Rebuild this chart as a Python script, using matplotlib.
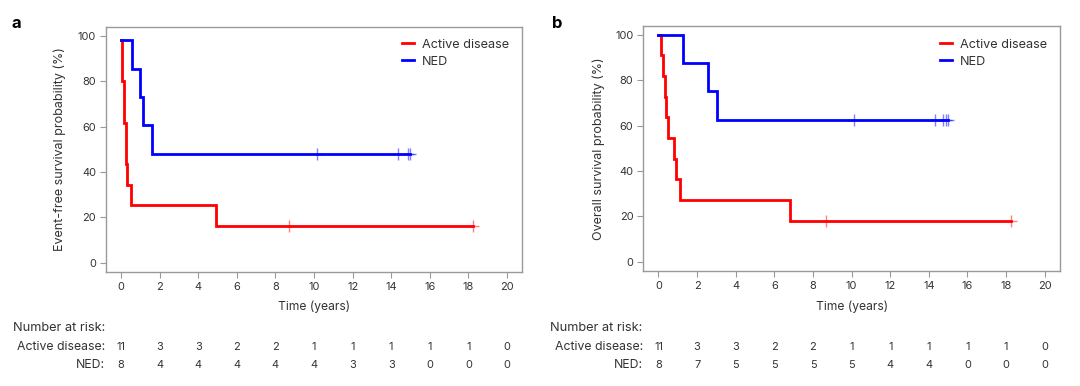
import matplotlib
matplotlib.use("Agg")
import matplotlib.pyplot as plt
from matplotlib.transforms import blended_transform_factory
from matplotlib.lines import Line2D

FONT = ['Inter', 'DejaVu Sans']
plt.rcParams['font.family'] = FONT

# ---------------- data ----------------
# Panel a: event-free survival
efs_active_t = [0, 0.07, 0.16, 0.24, 0.27, 0.29, 0.52, 4.92, 18.26]
efs_active_s = [98.1, 79.9, 61.5, 52.6, 43.5, 34.5, 25.4, 16.3, 16.3]
efs_active_cens = [8.72, 18.26]

efs_ned_t = [0, 0.57, 0.97, 1.14, 1.59, 14.96]
efs_ned_s = [98.1, 85.5, 73.0, 60.5, 48.0, 48.0]
efs_ned_cens = [10.13, 14.37, 14.87, 14.96]

# Panel b: overall survival
os_active_t = [0, 0.11, 0.22, 0.32, 0.41, 0.50, 0.82, 0.91, 1.11, 6.83, 18.24]
os_active_s = [100, 90.9, 81.8, 72.7, 63.6, 54.5, 45.5, 36.4, 27.3, 18.2, 18.2]
os_active_cens = [8.69, 18.24]

os_ned_t = [0, 1.29, 2.56, 3.03, 14.98]
os_ned_s = [100, 87.5, 75.0, 62.5, 62.5]
os_ned_cens = [10.13, 14.34, 14.75, 14.87, 14.98]

risk_times = [0, 2, 4, 6, 8, 10, 12, 14, 16, 18, 20]
efs_risk_active = [11, 3, 3, 2, 2, 1, 1, 1, 1, 1, 0]
efs_risk_ned = [8, 4, 4, 4, 4, 4, 3, 3, 0, 0, 0]
os_risk_active = [11, 3, 3, 2, 2, 1, 1, 1, 1, 1, 0]
os_risk_ned = [8, 7, 5, 5, 5, 5, 4, 4, 0, 0, 0]

group_labels = ["Active disease", "NED"]
colors = ["#ff0000", "#0000ff"]
y_labels = ["Event-free survival probability (%)", "Overall survival probability (%)"]
panel_letters = ["a", "b"]

# ---------------- figure ----------------
W, H = 1080, 386
fig = plt.figure(figsize=(W / 100, H / 100), dpi=100)
renderer = fig.canvas.get_renderer()

TXT = "#333333"
SP = "#999999"


def fit_size(text, target_px, weight="normal"):
    """Font size (pt) so that `text` is about target_px wide."""
    t = fig.text(0, 0, text, fontsize=10, fontweight=weight)
    w = t.get_window_extent(renderer).width
    t.remove()
    return 10 * target_px / w


FS_TICK = fit_size("100", 18.5)
FS_YLAB = fit_size(y_labels[0], 205.0)
FS_XLAB = fit_size("Time (years)", 72.5)
FS_LEG = fit_size("Active disease", 88.0)
FS_NAR = fit_size("Number at risk:", 93.0)
FS_ROW = fit_size("Active disease:", 88.7)


def level_at(ts, ss, x):
    v = ss[0]
    for t, s in zip(ts, ss):
        if t <= x:
            v = s
    return v


panels = [
    dict(rect=[105.6 / W, 1 - 272 / H, (522.4 - 105.6) / W, (272 - 26.6) / H],
         curves=[(efs_active_t, efs_active_s, efs_active_cens),
                 (efs_ned_t, efs_ned_s, efs_ned_cens)],
         risk=[efs_risk_active, efs_risk_ned], letter_x=12, nar_x=13, lab_x=105,
         ylab_x=60, leg_x=509),
    dict(rect=[643 / W, 1 - 271 / H, (1060.2 - 643) / W, (271 - 25.6) / H],
         curves=[(os_active_t, os_active_s, os_active_cens),
                 (os_ned_t, os_ned_s, os_ned_cens)],
         risk=[os_risk_active, os_risk_ned], letter_x=552, nar_x=550, lab_x=643,
         ylab_x=599, leg_x=1047),
]

for i, p in enumerate(panels):
    ax = fig.add_axes(p["rect"])
    for (ts, ss, cens), col in zip(p["curves"], colors):
        ax.step(ts, ss, where="post", color=col, lw=2.0, solid_joinstyle="miter")
        ax.plot(cens, [level_at(ts, ss, c) for c in cens], linestyle="none",
                marker="+", ms=9, mew=1.0, color=col, alpha=0.5)
    ax.set_xlim(-0.8, 20.8)
    ax.set_ylim(-4, 104)
    ax.set_xticks(risk_times)
    ax.set_yticks([0, 20, 40, 60, 80, 100])
    for s in ax.spines.values():
        s.set_color(SP)
        s.set_linewidth(1.0)
    ax.tick_params(colors=SP, labelcolor=TXT, labelsize=FS_TICK, length=4,
                   width=0.8, pad=3)
    ax_w = p["rect"][2] * W
    ax.set_ylabel(y_labels[i], fontsize=FS_YLAB, color=TXT, va="center")
    ax.yaxis.set_label_coords((p["ylab_x"] - p["rect"][0] * W) / ax_w, 0.5)

    tr = blended_transform_factory(ax.transData, fig.transFigure)
    ax.text(10, 1 - 307 / H, "Time (years)", transform=tr, fontsize=FS_XLAB,
            color=TXT, ha="center", va="center")

    handles = [Line2D([], [], color=c, lw=2) for c in colors]
    ax.legend(handles, group_labels, loc="upper right", frameon=False, fontsize=FS_LEG,
              handlelength=1.0, handletextpad=0.6, labelspacing=0.4,
              borderaxespad=0.0, borderpad=0.0, labelcolor=TXT,
              bbox_to_anchor=(p["leg_x"] / W, 1 - 38.5 / H),
              bbox_transform=fig.transFigure)

    fig.text(p["letter_x"] / W, 1 - 24 / H, panel_letters[i], fontsize=12,
             fontweight="bold", va="center", ha="left", color="black")

    fig.text(p["nar_x"] / W, 1 - 328 / H, "Number at risk:", fontsize=FS_NAR,
             color=TXT, va="center", ha="left")
    for lab, vals, yy in zip(group_labels, p["risk"], [347, 365]):
        fig.text(p["lab_x"] / W, 1 - yy / H, lab + ":", fontsize=FS_ROW, color=TXT,
                 va="center", ha="right")
        for t, v in zip(risk_times, vals):
            ax.text(t, 1 - yy / H, str(v), transform=tr, fontsize=FS_TICK, color=TXT,
                    ha="center", va="center")

fig.savefig("out.png", dpi=100)
